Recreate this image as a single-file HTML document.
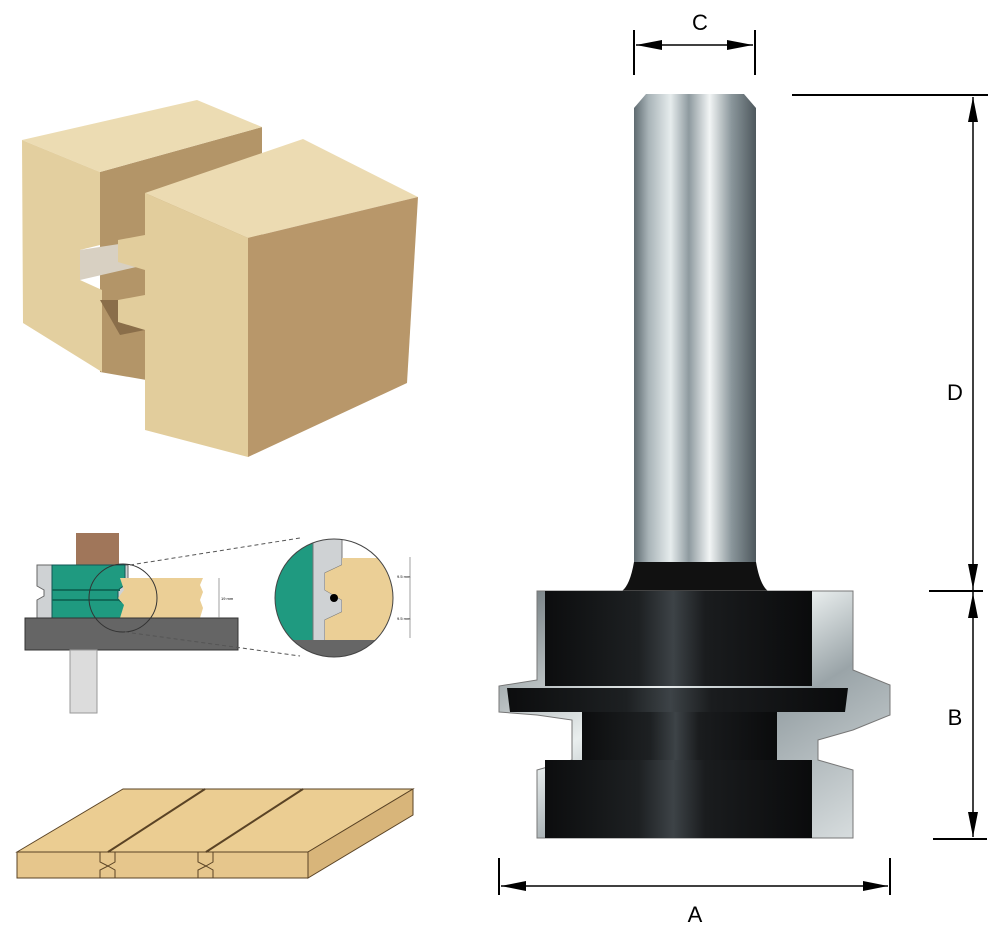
<!DOCTYPE html>
<html><head><meta charset="utf-8"><style>
html,body{margin:0;padding:0;background:#fff;width:1000px;height:926px;overflow:hidden}
svg{display:block}
text{font-family:"Liberation Sans",sans-serif}
</style></head><body>
<svg width="1000" height="926" viewBox="0 0 1000 926" xmlns="http://www.w3.org/2000/svg">
<defs>
<linearGradient id="shank" x1="0" x2="1" y1="0" y2="0">
<stop offset="0" stop-color="#5e6a70"/><stop offset="0.12" stop-color="#a9b4b8"/><stop offset="0.3" stop-color="#e6eced"/><stop offset="0.45" stop-color="#8e9a9f"/><stop offset="0.62" stop-color="#f2f5f5"/><stop offset="0.8" stop-color="#8a969b"/><stop offset="1" stop-color="#4e585d"/>
</linearGradient>
<linearGradient id="black" x1="0" x2="1" y1="0" y2="0">
<stop offset="0" stop-color="#0c0d0e"/><stop offset="0.35" stop-color="#1d2022"/><stop offset="0.48" stop-color="#3d4347"/><stop offset="0.6" stop-color="#1a1c1e"/><stop offset="1" stop-color="#0a0b0c"/>
</linearGradient>
<linearGradient id="silver" x1="0" x2="1" y1="0" y2="1">
<stop offset="0" stop-color="#6d777b"/><stop offset="0.4" stop-color="#e9eeee"/><stop offset="0.6" stop-color="#9aa4a8"/><stop offset="1" stop-color="#dfe4e5"/>
</linearGradient>
<clipPath id="cc"><circle cx="334" cy="598" r="59"/></clipPath>
</defs>

<polygon points="100,172 262,127 262,400 100,372" fill="#b39568"/>
<polygon points="22,140 197,100 262,127 100,172" fill="#ecdcb3"/>
<polygon points="22,140 100,172 100,245 80,250 80,280 102,290 102,372 23,323" fill="#e3cf9f"/>
<polygon points="80,250 145,240 145,265 80,280" fill="#d8d0c2"/>
<polygon points="100,300 145,300 145,330 120,335" fill="#8a6e4a"/>
<polygon points="145,193 303,139 418,197 248,238" fill="#ecdbb2"/>
<polygon points="145,193 248,238 248,457 145,430 145,330 118,322 118,300 145,295 145,270 118,262 118,240 145,235" fill="#e2cd9c"/>
<polygon points="248,238 418,197 407,383 248,457" fill="#b8976a"/>

<rect x="76" y="533" width="43" height="33" fill="#a0765a"/>
<path d="M37,565 H128 V618 H37 V600 L44,596 V590 L37,586 Z" fill="#cfd2d4" stroke="#666" stroke-width="1"/>
<path d="M52,565 H125 V585 L118,590 V600 L125,604 V618 H52 Z" fill="#1f9a80" stroke="#155" stroke-width="1"/>
<line x1="52" y1="590" x2="120" y2="590" stroke="#0f6a58" stroke-width="2"/>
<line x1="52" y1="600" x2="120" y2="600" stroke="#0f6a58" stroke-width="2"/>
<path d="M120,578 H203 L200,585 L203,592 L200,600 L203,608 L200,618 H120 L124,605 L118,598 L124,590 Z" fill="#ebcf96"/>
<rect x="25" y="618" width="213" height="32" fill="#656565" stroke="#333"/>
<rect x="70" y="650" width="27" height="63" fill="#dcdcdc" stroke="#999"/>
<circle cx="123" cy="598" r="34" fill="none" stroke="#333" stroke-width="1"/>
<line x1="130" y1="565" x2="300" y2="538" stroke="#555" stroke-dasharray="4,3"/>
<line x1="125" y1="632" x2="300" y2="656" stroke="#555" stroke-dasharray="4,3"/>
<line x1="219" y1="578" x2="219" y2="618" stroke="#777" stroke-width="0.7"/>
<text x="221" y="600" font-size="4">19 mm</text>
<g clip-path="url(#cc)">
<rect x="270" y="535" width="130" height="130" fill="#fff"/>
<rect x="270" y="535" width="50" height="110" fill="#1f9a80"/>
<path d="M313,535 H342 V565 L325,573 V590 L342,600 V612 L325,620 V645 H313 Z" fill="#cfd2d4" stroke="#777"/>
<path d="M342,558 H400 V640 H325 V620 L342,612 V600 L325,590 V573 L342,565 Z" fill="#ebcf96"/>
<rect x="270" y="640" width="130" height="25" fill="#666"/>
</g>
<circle cx="334" cy="598" r="59" fill="none" stroke="#444"/>
<circle cx="334" cy="598" r="4" fill="#000"/>
<line x1="410" y1="557" x2="410" y2="638" stroke="#777" stroke-width="0.7"/>
<text x="397" y="578" font-size="4">9.5 mm</text>
<text x="397" y="620" font-size="4">9.5 mm</text>

<polygon points="17,852 123,789 413,789 308,852" fill="#ebcd92" stroke="#5a4325"/>
<polygon points="17,852 308,852 308,878 17,878" fill="#e6c68c" stroke="#5a4325"/>
<polygon points="308,852 413,789 413,815 308,878" fill="#d8b57a" stroke="#5a4325"/>
<line x1="108" y1="852" x2="205" y2="789" stroke="#5a4325" stroke-width="2"/>
<line x1="206" y1="852" x2="303" y2="789" stroke="#5a4325" stroke-width="2"/>
<path d="M100,852 V862 L108,866 L100,870 V878 M115,852 V862 L108,866 L115,870 V878" fill="none" stroke="#5a4325"/>
<path d="M198,852 V862 L206,866 L198,870 V878 M213,852 V862 L206,866 L213,870 V878" fill="none" stroke="#5a4325"/>

<path d="M634,108 L646,94 H744 L756,108 V565 H634 Z" fill="url(#shank)"/>
<path d="M634,562 H756 Q760,585 768,591 H622 Q630,585 634,562 Z" fill="#111"/>
<path d="M537,591 H853 V670 L890,685 V715 L853,730 L818,740 V760 L853,770 V838 H537 V770 L572,760 V720 L537,715 L499,712 V686 L537,680 Z" fill="url(#silver)" stroke="#777"/>
<rect x="545" y="591" width="267" height="95" fill="url(#black)"/>
<path d="M507,688 H848 L845,712 H510 Z" fill="url(#black)"/>
<rect x="582" y="712" width="195" height="48" fill="url(#black)"/>
<rect x="545" y="760" width="267" height="78" fill="url(#black)"/>

<g stroke="#000" stroke-width="2" fill="none">
<line x1="634" y1="30" x2="634" y2="75"/><line x1="755" y1="30" x2="755" y2="75"/>
<line x1="636" y1="45" x2="753" y2="45" stroke-width="1.5"/>
<line x1="792" y1="95" x2="988" y2="95"/>
<line x1="929" y1="591" x2="983" y2="591"/>
<line x1="933" y1="839" x2="987" y2="839"/>
<line x1="973" y1="97" x2="973" y2="837" stroke-width="1.5"/>
<line x1="499" y1="858" x2="499" y2="895"/><line x1="890" y1="858" x2="890" y2="895"/>
<line x1="501" y1="886" x2="888" y2="886" stroke-width="1.5"/>
</g>
<g fill="#000">
<polygon points="636,45 662,40 662,50"/><polygon points="753,45 727,40 727,50"/>
<polygon points="973,97 968,122 978,122"/><polygon points="973,589 968,564 978,564"/>
<polygon points="973,593 968,618 978,618"/><polygon points="973,837 968,812 978,812"/>
<polygon points="501,886 526,881 526,891"/><polygon points="888,886 863,881 863,891"/>
</g>
<text x="700" y="30" font-size="22" text-anchor="middle">C</text>
<text x="955" y="400" font-size="22" text-anchor="middle">D</text>
<text x="955" y="725" font-size="22" text-anchor="middle">B</text>
<text x="695" y="922" font-size="22" text-anchor="middle">A</text>
</svg>
</body></html>
